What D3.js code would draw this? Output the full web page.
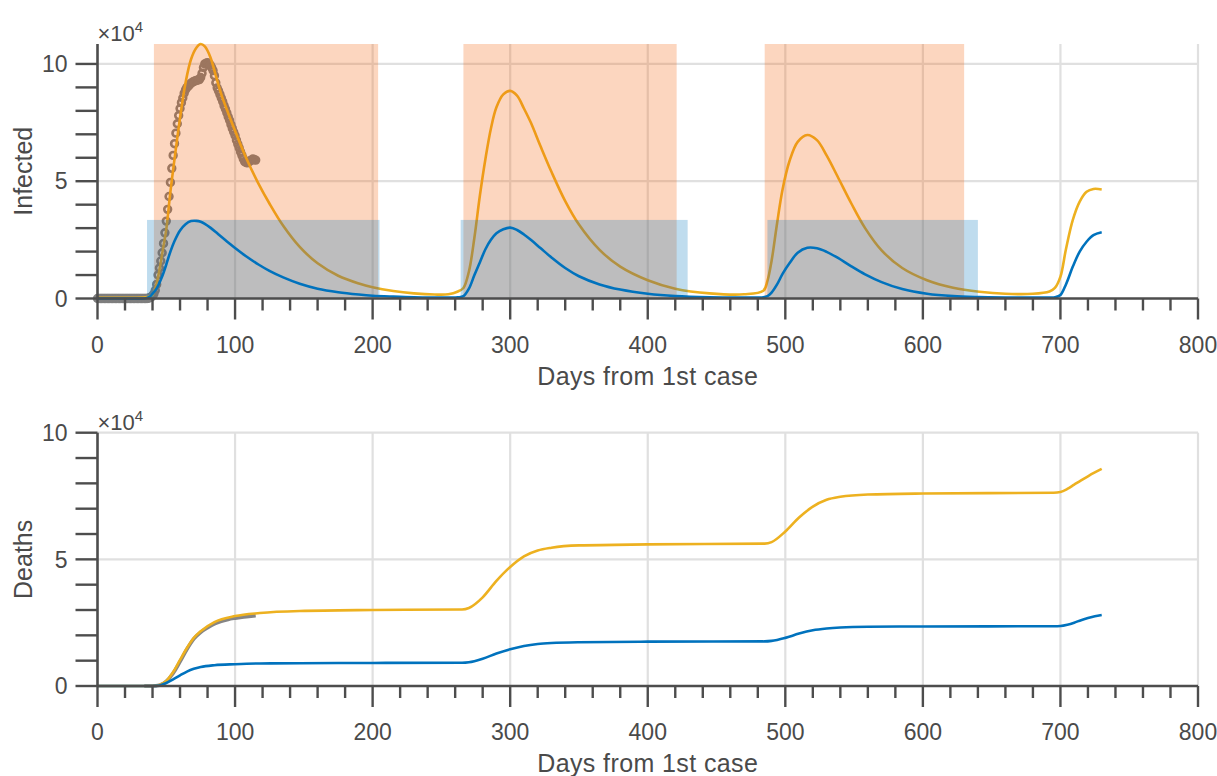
<!DOCTYPE html>
<html><head><meta charset="utf-8">
<script src="https://cdn.jsdelivr.net/npm/d3@7"></script>
<style>
html,body{margin:0;padding:0;background:#fff;}
text{font-family:"Liberation Sans",Arial,sans-serif;fill:#4a4a4a;}
</style></head>
<body>
<svg id="c" width="1217" height="776"></svg>
<script>
// ---------- DATA (values in units of 10^4) ----------
const modelDays = [0,20,35,38,40,43,46,48,50,53,56,60,64,68,72,75,78,82,86,90,95,100,108,117,125,135,147,160,175,190,200,215,230,245,255,262,
  266,270,274,278,282,286,290,295,300,305,310,315,322,330,340,350,365,380,400,420,445,470,484,
  487,490,494,498,503,509,516,523,530,538,548,558,570,585,603,622,641,660,680,692,696,700,704,709,714,719,724,730];
const infectedA = [0.03,0.03,0.05,0.1,0.15,0.65,1.55,2.25,2.95,4.55,5.95,7.7,9.2,10.2,10.7,10.85,10.75,10.3,9.5,8.7,7.9,7.15,6.0,4.9,4.05,3.1,2.2,1.5,0.97,0.64,0.48,0.32,0.22,0.17,0.18,0.3,
  0.45,1.15,2.6,4.4,5.95,7.25,8.15,8.7,8.85,8.65,8.1,7.5,6.5,5.4,4.15,3.15,2.07,1.36,0.78,0.42,0.22,0.18,0.33,
  0.75,1.6,3.2,4.65,5.85,6.68,6.97,6.75,6.1,5.2,4.05,3.0,2.05,1.3,0.78,0.46,0.29,0.2,0.2,0.3,0.45,0.93,2.1,3.35,4.13,4.55,4.67,4.65];
const infectedB = [0,0,0.01,0.08,0.2,0.43,0.8,1.1,1.45,2.0,2.45,2.9,3.17,3.3,3.31,3.27,3.18,3.02,2.83,2.63,2.39,2.15,1.8,1.45,1.18,0.9,0.63,0.42,0.27,0.17,0.12,0.08,0.05,0.04,0.04,0.05,
  0.1,0.42,1.0,1.55,2.1,2.5,2.78,2.95,3.02,2.92,2.73,2.5,2.15,1.75,1.3,0.95,0.6,0.38,0.2,0.1,0.05,0.04,0.05,
  0.1,0.25,0.6,1.05,1.5,1.95,2.16,2.14,1.99,1.74,1.37,1.03,0.7,0.4,0.2,0.1,0.06,0.04,0.04,0.04,0.05,0.15,0.6,1.36,2.0,2.42,2.7,2.82];

const observedInfected = [
  0,0,0,0,0,0,0,0,0,0, 0,0,0,0,0,0,0,0,0,0, 0,0,0,0,0,0,0,0,0,0, 0,0,0,0,0,0,0,
  0.01,0.03,0.06,0.12,0.2,0.35,0.6,1.0,1.3,1.6,1.95,2.35,2.8,3.3,3.8,4.35,4.95,5.55,6.1,6.6,7.05,7.45,7.8,8.1,
  8.35,8.55,8.75,8.9,9.0,9.05,9.12,9.18,9.22,9.25,9.28,9.3,9.32,9.33,9.42,9.6,9.85,10.0,10.03,10.05,
  10.02,9.95,9.85,9.72,9.5,9.2,8.98,8.85,8.7,8.55,8.4,8.22,8.08,7.92,7.75,7.6,7.42,7.25,7.1,6.95,
  6.75,6.58,6.42,6.25,6.1,5.95,5.83,5.8,5.78,5.82,5.88,5.9,5.95,5.92,5.9];
const observedStartDay = 0;

const deathDays = [0,40,45,50,55,60,65,70,75,85,100,118,147,200,265,270,280,290,300,310,320,330,350,400,485,490,500,510,520,530,540,560,600,695,700,705,710,715,720,725,730];
const deathsA = [0,0,0.04,0.2,0.55,1.03,1.5,1.9,2.16,2.52,2.76,2.88,2.96,3.0,3.02,3.08,3.5,4.15,4.7,5.12,5.35,5.46,5.55,5.59,5.62,5.68,6.1,6.65,7.08,7.35,7.47,7.56,7.6,7.63,7.66,7.78,7.95,8.12,8.28,8.43,8.57];
const deathsB = [0,0,0.02,0.12,0.26,0.42,0.57,0.68,0.75,0.82,0.86,0.89,0.9,0.91,0.92,0.94,1.08,1.28,1.45,1.58,1.66,1.7,1.73,1.75,1.76,1.78,1.9,2.07,2.2,2.27,2.31,2.34,2.35,2.36,2.37,2.42,2.5,2.6,2.68,2.75,2.8];

const observedDeathDays = [34,40,45,50,55,60,65,70,75,80,85,90,95,100,105,110,115];
const observedDeaths = [0,0,0.03,0.18,0.5,0.96,1.45,1.86,2.12,2.3,2.45,2.55,2.63,2.68,2.72,2.75,2.78];

const orangePeriods = [[41,204],[266,421],[485,630]];
const bluePeriods = [[36,205],[264,429],[487,640]];
const bluePeriodLevel = 3.35;

const xTicksMajor = [0,100,200,300,400,500,600,700,800];
const yLabelTicks = [0,5,10];
const xLabel = "Days from 1st case";
const yLabelTop = "Infected";
const yLabelBottom = "Deaths";

// ---------- STYLE ----------
const C_BLUE = "#0072BD", C_GOLD = "#EDB120", C_AX = "#4d4d4d", C_GRID = "#e0e0e0";
const svg = d3.select("#c");
svg.append("rect").attr("width",1217).attr("height",776).attr("fill","#fff");

const x = d3.scaleLinear().domain([0,800]).range([97.5,1198]);

function panel(yTop, yBot, ymax, ylab) {
  const y = d3.scaleLinear().domain([0, ymax]).range([yBot, yTop]);
  const g = svg.append("g");
  const grid = g.append("g");
  xTicksMajor.filter(d=>d>0).forEach(d=>{
    grid.append("line").attr("x1",x(d)).attr("x2",x(d)).attr("y1",y(0)).attr("y2",yTop)
      .attr("stroke",C_GRID).attr("stroke-width",2.2);
  });
  yLabelTicks.filter(d=>d>0 && d<=ymax).forEach(d=>{
    grid.append("line").attr("x1",x(0)).attr("x2",x(800)).attr("y1",y(d)).attr("y2",y(d))
      .attr("stroke",C_GRID).attr("stroke-width",2.2);
  });
  const layer = g.append("g");
  const axes = g.append("g");
  axes.append("line").attr("x1",x(0)).attr("x2",x(800)).attr("y1",y(0)).attr("y2",y(0))
    .attr("stroke",C_AX).attr("stroke-width",2.6);
  d3.range(0,801,20).forEach(d=>{
    const major = d%100===0;
    axes.append("line").attr("x1",x(d)).attr("x2",x(d)).attr("y1",y(0)).attr("y2",y(0)+(major?21:12))
      .attr("stroke",C_AX).attr("stroke-width",2.4);
  });
  xTicksMajor.forEach(d=>{
    axes.append("text").attr("x",x(d)).attr("y",y(0)+54).attr("text-anchor","middle")
      .style("font-size","23px").text(d);
  });
  axes.append("text").attr("x",x(400)).attr("y",y(0)+86).attr("text-anchor","middle")
    .style("font-size","25px").style("letter-spacing","0.4px").text(xLabel);
  axes.append("line").attr("x1",x(0)).attr("x2",x(0)).attr("y1",y(0)).attr("y2",yTop)
    .attr("stroke",C_AX).attr("stroke-width",2.6);
  d3.range(0, Math.floor(ymax)+1, 1).forEach(d=>{
    axes.append("line").attr("x1",x(0)-22).attr("x2",x(0)).attr("y1",y(d)).attr("y2",y(d))
      .attr("stroke",C_AX).attr("stroke-width",2.4);
  });
  yLabelTicks.forEach(d=>{
    axes.append("text").attr("x",x(0)-30).attr("y",y(d)).attr("dy","0.36em").attr("text-anchor","end")
      .style("font-size","23px").text(d);
  });
  const ex = axes.append("text").attr("x",x(0)).attr("y",yTop-3).style("font-size","22px");
  ex.append("tspan").text("\u00d710");
  ex.append("tspan").attr("dy",-9).style("font-size","15px").text("4");
  axes.append("text").attr("transform",`translate(32,${(yTop+yBot)/2}) rotate(-90)`)
    .attr("text-anchor","middle").style("font-size","25px").text(ylab);
  return {y, layer};
}

const curve = d3.curveCatmullRom.alpha(0.5);

// ---------- TOP PANEL ----------
const topPanel = panel(44, 298.5, 10.85, yLabelTop);
{
  const y = topPanel.y, L = topPanel.layer;
  const line = d3.line().x(d=>x(d[0])).y(d=>y(Math.max(0,d[1]))).curve(curve);
  L.append("g").selectAll("circle").data(observedInfected.map((v,i)=>[observedStartDay+i,v]))
    .join("circle").attr("cx",d=>x(d[0])).attr("cy",d=>y(d[1])).attr("r",3.4)
    .attr("fill","none").attr("stroke","#7f7f7f").attr("stroke-width",2.6);
  L.append("path").attr("d",line(modelDays.map((d,i)=>[d,infectedA[i]])))
    .attr("fill","none").attr("stroke",C_GOLD).attr("stroke-width",2.6);
  orangePeriods.forEach(p=>{
    L.append("rect").attr("x",x(p[0])).attr("width",x(p[1])-x(p[0]))
      .attr("y",y(10.85)).attr("height",y(0)-y(10.85))
      .attr("fill","rgb(243,91,0)").attr("fill-opacity",0.25);
  });
  bluePeriods.forEach(p=>{
    L.append("rect").attr("x",x(p[0])).attr("width",x(p[1])-x(p[0]))
      .attr("y",y(bluePeriodLevel)).attr("height",y(0)-y(bluePeriodLevel))
      .attr("fill",C_BLUE).attr("fill-opacity",0.25);
  });
  L.append("path").attr("d",line(modelDays.map((d,i)=>[d,infectedB[i]])))
    .attr("fill","none").attr("stroke",C_BLUE).attr("stroke-width",2.6);
}

// ---------- BOTTOM PANEL ----------
const botPanel = panel(432.7, 686, 10, yLabelBottom);
{
  const y = botPanel.y, L = botPanel.layer;
  const line = d3.line().x(d=>x(d[0])).y(d=>y(d[1])).curve(d3.curveMonotoneX);
  L.append("path").attr("d",line(observedDeathDays.map((d,i)=>[d,observedDeaths[i]])))
    .attr("fill","none").attr("stroke","#858585").attr("stroke-width",3.6);
  L.append("path").attr("d",line(deathDays.map((d,i)=>[d,deathsA[i]])))
    .attr("fill","none").attr("stroke",C_GOLD).attr("stroke-width",2.6);
  L.append("path").attr("d",line(deathDays.map((d,i)=>[d,deathsB[i]])))
    .attr("fill","none").attr("stroke",C_BLUE).attr("stroke-width",2.6);
}
</script>
</body></html>
